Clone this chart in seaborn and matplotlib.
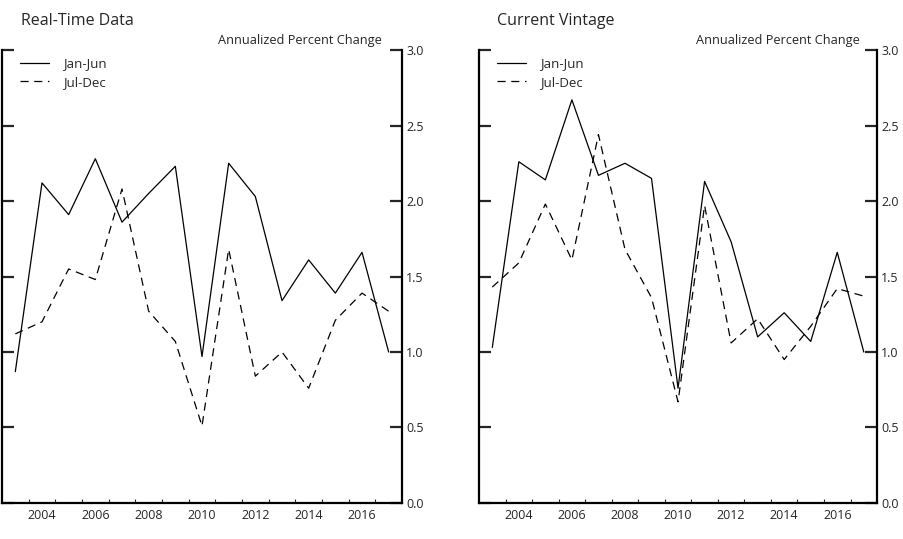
import numpy as np
import pandas as pd
import matplotlib
matplotlib.use("Agg")
import matplotlib.pyplot as plt
import seaborn as sns
from matplotlib.lines import Line2D
from matplotlib.ticker import FixedLocator, NullFormatter

# --- data ---
years = list(range(2003, 2018))
halves = ["Jan-Jun", "Jul-Dec"]

rt_jan_jun = [0.87, 2.12, 1.91, 2.28, 1.86, 2.05, 2.23, 0.97, 2.25, 2.03, 1.34, 1.61, 1.39, 1.66, 1.00]
rt_jul_dec = [1.12, 1.20, 1.55, 1.48, 2.08, 1.27, 1.07, 0.51, 1.68, 0.84, 1.00, 0.76, 1.21, 1.39, 1.27]

cv_jan_jun = [1.03, 2.26, 2.14, 2.67, 2.17, 2.25, 2.15, 0.76, 2.13, 1.73, 1.10, 1.26, 1.07, 1.66, 1.00]
cv_jul_dec = [1.43, 1.59, 1.98, 1.61, 2.44, 1.68, 1.36, 0.67, 1.97, 1.06, 1.22, 0.95, 1.17, 1.42, 1.37]

panel_titles = ["Real-Time Data", "Current Vintage"]
units_label = "Annualized Percent Change"
y_ticks = [0.0, 0.5, 1.0, 1.5, 2.0, 2.5, 3.0]
x_label_years = [2004, 2006, 2008, 2010, 2012, 2014, 2016]


def long_frame(jan_jun, jul_dec):
    # each year is drawn at mid-year
    df = pd.DataFrame({"Year": np.array(years) + 0.5, "Jan-Jun": jan_jun, "Jul-Dec": jul_dec})
    return df.melt(id_vars="Year", var_name="Half", value_name="Value")


sns.set_style("ticks")
plt.rcParams["font.family"] = ["Open Sans", "DejaVu Sans"]

fig = plt.figure(figsize=(9.04, 5.39), dpi=100)
ax_rt = fig.add_axes([0.0022, 0.0668, 0.4425, 0.8404])
ax_cv = fig.add_axes([0.5299, 0.0668, 0.4403, 0.8404])

dash_map = {"Jan-Jun": "", "Jul-Dec": (6.5, 4.5)}
title_x = [0.0475, 0.045]
units_x = [0.95, 0.957]

for i, (ax, data) in enumerate([(ax_rt, long_frame(rt_jan_jun, rt_jul_dec)),
                                (ax_cv, long_frame(cv_jan_jun, cv_jul_dec))]):
    sns.lineplot(data=data, x="Year", y="Value", style="Half", dashes=dash_map,
                 color="black", linewidth=0.9, ax=ax, legend=False)

    ax.set_xlim(2003, 2018)
    ax.set_ylim(0, 3)
    ax.set_xlabel("")
    ax.set_ylabel("")

    ax.spines["top"].set_visible(False)
    for side in ["left", "right", "bottom"]:
        ax.spines[side].set_visible(True)
        ax.spines[side].set_linewidth(1.6)
        ax.spines[side].set_color("black")

    # y ticks inward on both sides, labels on the right only
    ax.set_yticks(y_ticks)
    ax.set_yticklabels([f"{v:.1f}" for v in y_ticks])
    ax.tick_params(axis="y", which="major", direction="in", length=8.5, width=1.6,
                   left=True, right=True, labelleft=False, labelright=True,
                   labelsize=9, pad=3)

    # x: labels centred at mid-year, small inward ticks on year boundaries
    ax.set_xticks([y + 0.5 for y in x_label_years])
    ax.set_xticklabels([str(y) for y in x_label_years])
    ax.xaxis.set_minor_locator(FixedLocator(list(range(2004, 2018))))
    ax.xaxis.set_minor_formatter(NullFormatter())
    ax.tick_params(axis="x", which="major", length=0, labelsize=9, pad=4)
    ax.tick_params(axis="x", which="minor", direction="in", length=3, width=0.8)

    ax.text(title_x[i], 1.055, panel_titles[i], transform=ax.transAxes,
            fontsize=11.5, ha="left", va="baseline")
    ax.text(units_x[i], 1.0143, units_label, transform=ax.transAxes,
            fontsize=9.2, ha="right", va="baseline")

    handles = [Line2D([], [], color="black", linewidth=0.9),
               Line2D([], [], color="black", linewidth=0.9, dashes=dash_map["Jul-Dec"])]
    ax.legend(handles, halves, loc="upper left", frameon=False, fontsize=9.5,
              handlelength=2.2, handletextpad=1.05, labelspacing=0.41,
              borderaxespad=0.0, bbox_to_anchor=(0.032, 0.9956))

fig.savefig("out.png", dpi=100)
